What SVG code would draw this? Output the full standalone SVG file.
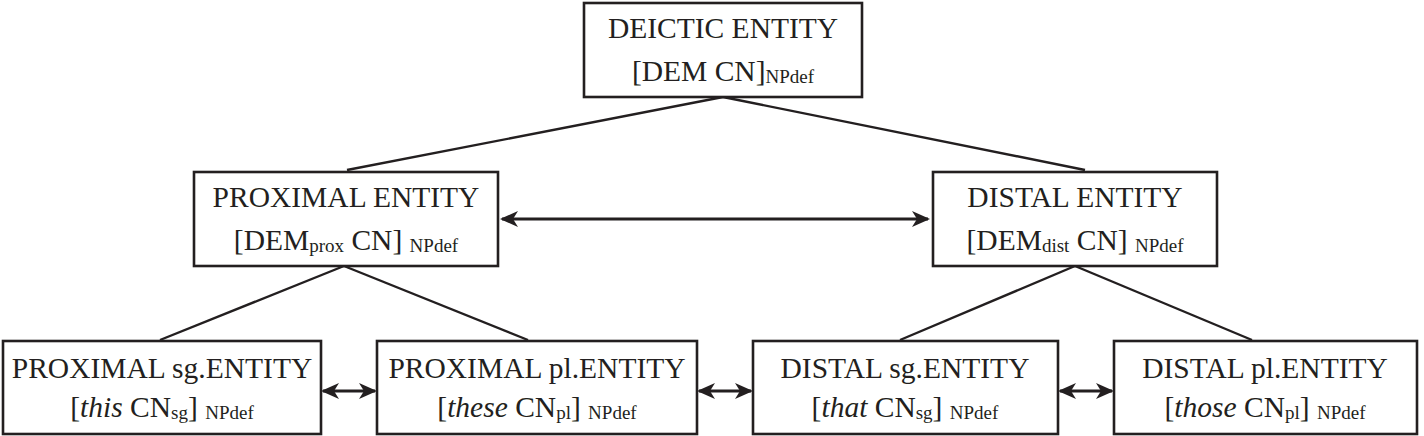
<svg xmlns="http://www.w3.org/2000/svg" width="1424" height="436" viewBox="0 0 1424 436">
<style>
.box{fill:#fff;stroke:#231f20;stroke-width:2.6}
.ln{stroke:#231f20;stroke-width:2.4;fill:none}
.ar{stroke:#231f20;stroke-width:3;fill:none}
text{font-family:"Liberation Serif","Times New Roman",serif;font-size:29.5px;fill:#231f20;text-anchor:middle}
.s{font-size:19px}
.i{font-style:italic}
</style>
<defs>
<marker id="ah" viewBox="0 0 18 18" refX="16" refY="9" markerWidth="18" markerHeight="18" markerUnits="userSpaceOnUse" orient="auto-start-reverse">
<path d="M0,1 L18,9 L0,17 L5,9 Z" fill="#231f20"/>
</marker>
</defs>
<g id="connectors">
<line class="ln" x1="723" y1="97" x2="347" y2="170"/>
<line class="ln" x1="723" y1="97" x2="1085" y2="170"/>
<line class="ln" x1="344" y1="266" x2="160" y2="340"/>
<line class="ln" x1="344" y1="266" x2="528" y2="340"/>
<line class="ln" x1="1075" y1="266" x2="900" y2="340"/>
<line class="ln" x1="1075" y1="266" x2="1252" y2="340"/>
<line class="ar" x1="502" y1="219" x2="928" y2="219" marker-start="url(#ah)" marker-end="url(#ah)"/>
<line class="ar" x1="323" y1="391" x2="375" y2="391" marker-start="url(#ah)" marker-end="url(#ah)"/>
<line class="ar" x1="699" y1="391" x2="751" y2="391" marker-start="url(#ah)" marker-end="url(#ah)"/>
<line class="ar" x1="1060" y1="391" x2="1112" y2="391" marker-start="url(#ah)" marker-end="url(#ah)"/>
</g>
<g id="deictic">
<rect class="box" x="584" y="3" width="278" height="94"/>
<text x="723" y="38">DEICTIC ENTITY</text>
<text x="723" y="81">[DEM CN]<tspan class="s" dy="2">NPdef</tspan></text>
</g>
<g id="proximal">
<rect class="box" x="194" y="172" width="304" height="94"/>
<text x="346" y="207">PROXIMAL ENTITY</text>
<text x="346" y="250">[DEM<tspan class="s" dy="2">prox</tspan><tspan dy="-2"> CN] </tspan><tspan class="s" dy="2">NPdef</tspan></text>
</g>
<g id="distal">
<rect class="box" x="933" y="172" width="284" height="94"/>
<text x="1075" y="207">DISTAL ENTITY</text>
<text x="1075" y="250">[DEM<tspan class="s" dy="2">dist</tspan><tspan dy="-2"> CN] </tspan><tspan class="s" dy="2">NPdef</tspan></text>
</g>
<g id="proximal-sg">
<rect class="box" x="3" y="341" width="318" height="93"/>
<text x="162" y="378">PROXIMAL sg.ENTITY</text>
<text x="162" y="417">[<tspan class="i">this</tspan> CN<tspan class="s" dy="2">sg</tspan><tspan dy="-2">] </tspan><tspan class="s" dy="2">NPdef</tspan></text>
</g>
<g id="proximal-pl">
<rect class="box" x="377" y="341" width="320" height="93"/>
<text x="537" y="378">PROXIMAL pl.ENTITY</text>
<text x="537" y="417">[<tspan class="i">these</tspan> CN<tspan class="s" dy="2">pl</tspan><tspan dy="-2">] </tspan><tspan class="s" dy="2">NPdef</tspan></text>
</g>
<g id="distal-sg">
<rect class="box" x="753" y="341" width="305" height="93"/>
<text x="905" y="378">DISTAL sg.ENTITY</text>
<text x="905" y="417">[<tspan class="i">that</tspan> CN<tspan class="s" dy="2">sg</tspan><tspan dy="-2">] </tspan><tspan class="s" dy="2">NPdef</tspan></text>
</g>
<g id="distal-pl">
<rect class="box" x="1114" y="341" width="303" height="93"/>
<text x="1265" y="378">DISTAL pl.ENTITY</text>
<text x="1265" y="417">[<tspan class="i">those</tspan> CN<tspan class="s" dy="2">pl</tspan><tspan dy="-2">] </tspan><tspan class="s" dy="2">NPdef</tspan></text>
</g>
</svg>
